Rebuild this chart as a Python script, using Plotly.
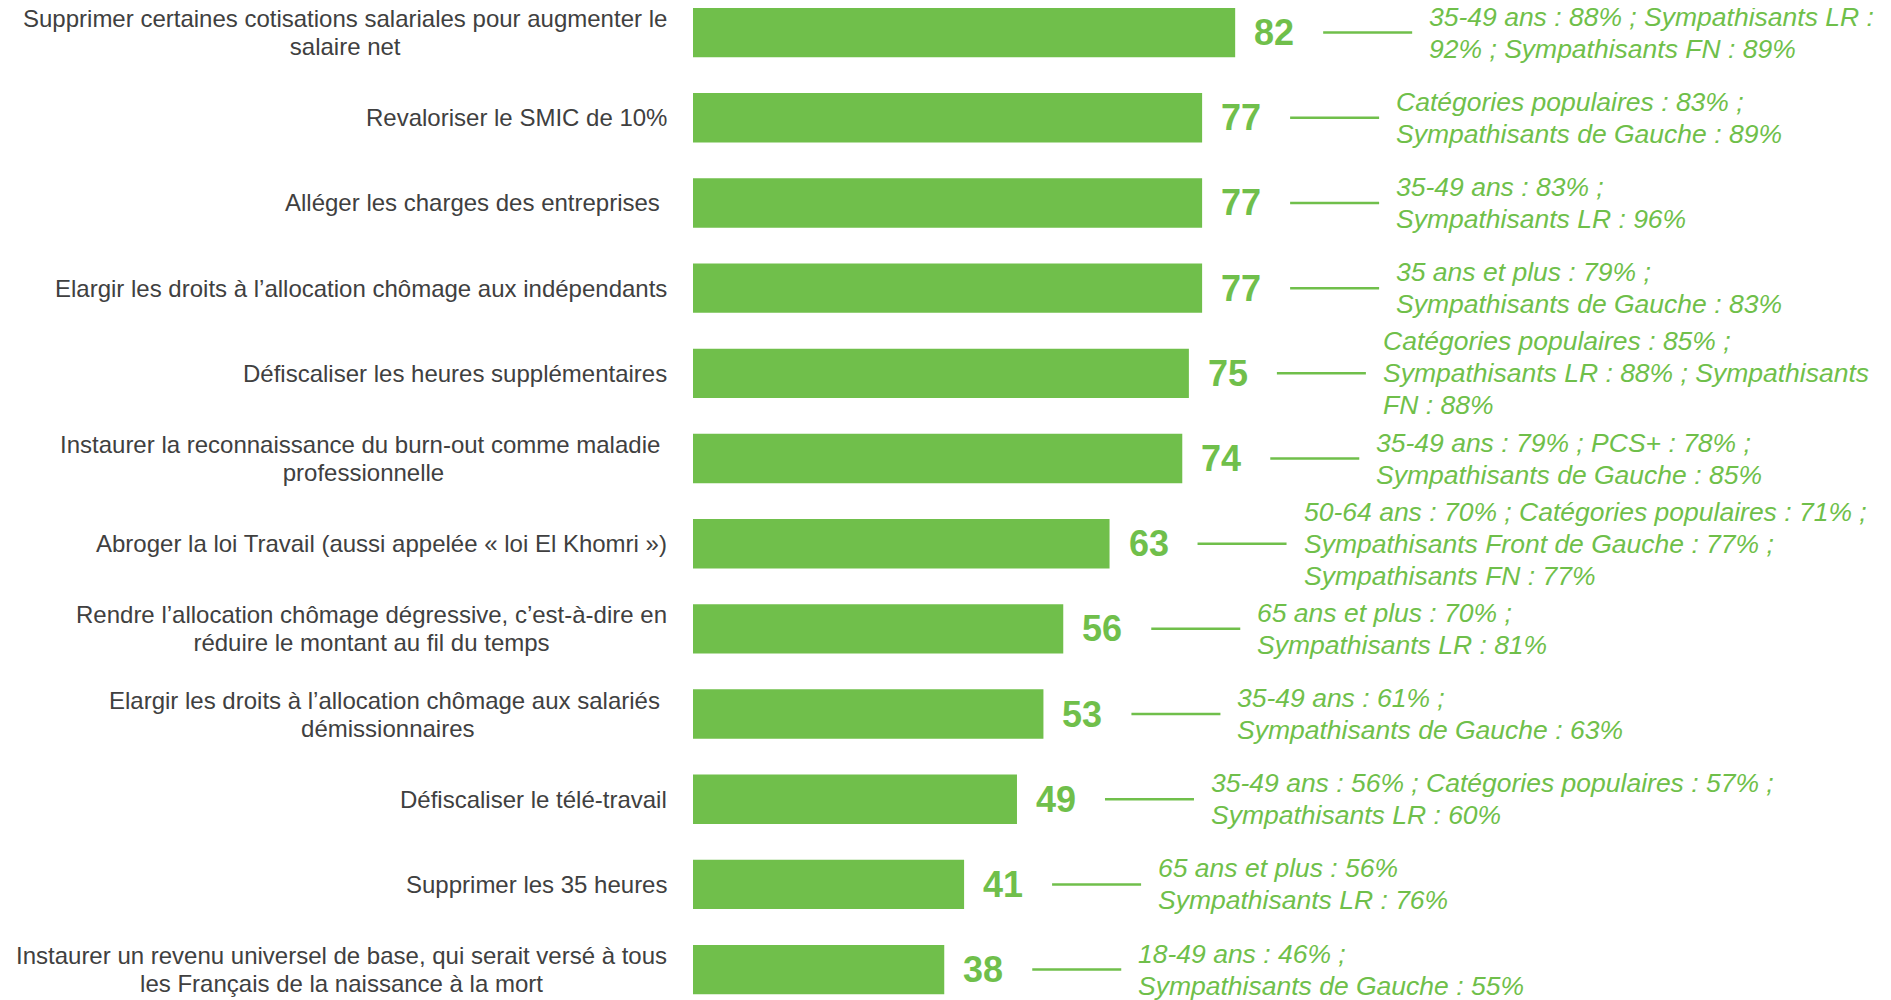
import plotly.graph_objects as go

# Mesures proposées, % de Français favorables
labels = [
    "Supprimer certaines cotisations salariales pour augmenter le<br>salaire net",
    "Revaloriser le SMIC de 10%",
    "Alléger les charges des entreprises\u00a0",
    "Elargir les droits à l’allocation chômage aux indépendants",
    "Défiscaliser les heures supplémentaires",
    "Instaurer la reconnaissance du burn-out comme maladie\u00a0<br>professionnelle",
    "Abroger la loi Travail (aussi appelée « loi El Khomri »)",
    "Rendre l’allocation chômage dégressive, c’est-à-dire en<br>réduire le montant au fil du temps",
    "Elargir les droits à l’allocation chômage aux salariés\u00a0<br>démissionnaires",
    "Défiscaliser le télé-travail",
    "Supprimer les 35 heures",
    "Instaurer un revenu universel de base, qui serait versé à tous<br>les Français de la naissance à la mort",
]
values = [82, 77, 77, 77, 75, 74, 63, 56, 53, 49, 41, 38]
details = [
    "35-49 ans : 88% ; Sympathisants LR :<br>92% ; Sympathisants FN : 89%",
    "Catégories populaires : 83% ;<br>Sympathisants de Gauche : 89%",
    "35-49 ans : 83% ;<br>Sympathisants LR : 96%",
    "35 ans et plus : 79% ;<br>Sympathisants de Gauche : 83%",
    "Catégories populaires : 85% ;<br>Sympathisants LR : 88% ; Sympathisants<br>FN : 88%",
    "35-49 ans : 79% ; PCS+ : 78% ;<br>Sympathisants de Gauche : 85%",
    "50-64 ans : 70% ; Catégories populaires : 71% ;<br>Sympathisants Front de Gauche : 77% ;<br>Sympathisants FN : 77%",
    "65 ans et plus : 70% ;<br>Sympathisants LR : 81%",
    "35-49 ans : 61% ;<br>Sympathisants de Gauche : 63%",
    "35-49 ans : 56% ; Catégories populaires : 57% ;<br>Sympathisants LR : 60%",
    "65 ans et plus : 56%<br>Sympathisants LR : 76%",
    "18-49 ans : 46% ;<br>Sympathisants de Gauche : 55%",
]

GREEN = "#70BF4B"
TEXT_GREEN = "#6FBF4A"
FONT = "Liberation Sans, Arial, sans-serif"


def sized(text, px, italic=False):
    # police affichée plus grande que la police de base -> interligne resserré
    tag = "i" if italic else "span"
    return "<br>".join(
        f"<{tag} style='font-size:{px}px'>{line}</{tag}>" for line in text.split("<br>")
    )


pos = list(range(len(values)))

fig = go.Figure(
    go.Bar(
        x=values,
        y=pos,
        orientation="h",
        width=0.58,
        marker=dict(color=GREEN, line=dict(width=0)),
        hoverinfo="skip",
    )
)

for i, (lab, v, det) in enumerate(zip(labels, values, details)):
    # libellé à gauche
    fig.add_annotation(
        x=0, y=i, xref="paper", yref="y",
        text=sized(lab, 24), showarrow=False,
        xanchor="right", yanchor="middle", align="center", xshift=-24,
        font=dict(family=FONT, size=21.3, color="#404040"),
    )
    # valeur
    fig.add_annotation(
        x=v, y=i, xref="x", yref="y",
        text=f"<b>{v}</b>", showarrow=False,
        xanchor="left", yanchor="middle", xshift=17,
        font=dict(family=FONT, size=36, color=GREEN),
    )
    # trait de liaison
    fig.add_shape(
        type="line", xref="x", yref="y",
        xsizemode="pixel", xanchor=v, x0=88, x1=177,
        y0=i, y1=i,
        line=dict(color=GREEN, width=2.5),
    )
    # détail par sous-population
    fig.add_annotation(
        x=v, y=i, xref="x", yref="y",
        text=sized(det, 26.5, italic=True), showarrow=False,
        xanchor="left", yanchor="middle", align="left", xshift=192,
        font=dict(family=FONT, size=24.8, color=TEXT_GREEN),
    )

fig.update_layout(
    width=1891,
    height=1000,
    margin=dict(l=685, r=0, t=0, b=0),
    plot_bgcolor="white",
    paper_bgcolor="white",
    showlegend=False,
    xaxis=dict(range=[0, 182.4], visible=False, fixedrange=True),
    yaxis=dict(range=[11.451, -0.289], visible=False, fixedrange=True),
)

fig.write_html("out.html")
